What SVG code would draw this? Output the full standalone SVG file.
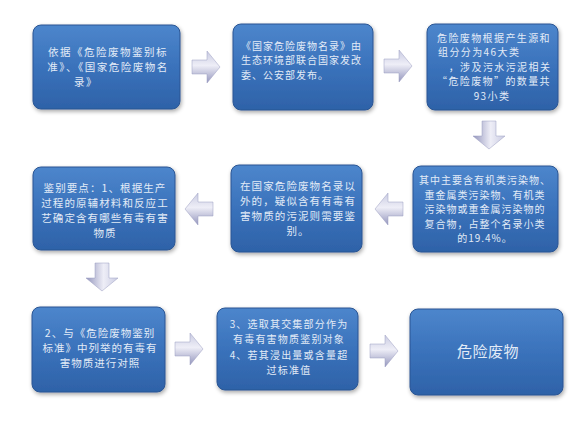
<svg xmlns="http://www.w3.org/2000/svg" width="582" height="428" viewBox="0 0 582 428">
<defs>
<linearGradient id="boxg" x1="0" y1="0" x2="0" y2="1">
<stop offset="0" stop-color="#4d86cc"/>
<stop offset="0.5" stop-color="#3a72bb"/>
<stop offset="1" stop-color="#2e62a8"/>
</linearGradient>
<linearGradient id="arrg" x1="0" y1="0" x2="0" y2="1">
<stop offset="0" stop-color="#c9cbe2"/>
<stop offset="0.45" stop-color="#eeeef7"/>
<stop offset="1" stop-color="#9496bd"/>
</linearGradient>
<filter id="sh" x="-10%" y="-10%" width="125%" height="130%">
<feGaussianBlur in="SourceAlpha" stdDeviation="2"/>
<feOffset dx="1" dy="2"/>
<feComponentTransfer><feFuncA type="linear" slope="0.35"/></feComponentTransfer>
<feMerge><feMergeNode/><feMergeNode in="SourceGraphic"/></feMerge>
</filter>
<path id="arr" d="M0,9 H15 V0 L28,16 L15,32 V23 H0 Z"/>
</defs>
<style>
.box{fill:url(#boxg);stroke:#2a5593;stroke-width:1;filter:url(#sh)}
.t{font-family:"Noto Sans CJK SC","Liberation Sans",sans-serif;font-size:10.5px;letter-spacing:1px;fill:#e2ebf7;text-anchor:middle}
.ts{text-anchor:start}
.a{fill:url(#arrg);stroke:#9a9cc0;stroke-width:0.5}
</style>
<rect width="582" height="428" fill="#ffffff"/>
<g id="connectors">
<use href="#arr" class="a" transform="translate(192,51)"/>
<use href="#arr" class="a" transform="translate(384,50)"/>
<use href="#arr" class="a" transform="translate(505,121) rotate(90)"/>
<use href="#arr" class="a" transform="translate(403,193) scale(-1,1)"/>
<use href="#arr" class="a" transform="translate(213,193) scale(-1,1)"/>
<use href="#arr" class="a" transform="translate(118,263) rotate(90)"/>
<use href="#arr" class="a" transform="translate(175,333)"/>
<use href="#arr" class="a" transform="translate(370,335)"/>
</g>
<g id="n1">
<rect class="box" x="33" y="25" width="147" height="84" rx="8"/>
<text class="t" style="letter-spacing:1.5px"><tspan x="108" y="56">依据《危险废物鉴别标</tspan><tspan x="108" y="71">准》、《国家危险废物名</tspan><tspan x="86" y="86">录》</tspan></text>
</g>
<g id="n2">
<rect class="box" x="233" y="24" width="140" height="86" rx="8"/>
<text class="t ts" style="font-size:10px"><tspan x="241" y="49.5">《国家危险废物名录》由</tspan><tspan x="241" y="64">生态环境部联合国家发改</tspan><tspan x="241" y="78.5">委、公安部发布。</tspan></text>
</g>
<g id="n3">
<rect class="box" x="427" y="24" width="131" height="86" rx="8"/>
<text class="t" style="font-size:10px;letter-spacing:1.4px"><tspan x="494" y="41.5">危险废物根据产生源和</tspan><tspan x="438" y="56" style="text-anchor:start">组分分为46大类</tspan><tspan x="500" y="70.5">，涉及污水污泥相关</tspan><tspan x="494" y="85">“危险废物”的数量共</tspan><tspan x="492" y="99.5">93小类</tspan></text>
</g>
<g id="n4">
<rect class="box" x="413" y="166" width="145" height="86" rx="8"/>
<text class="t" style="font-size:10px"><tspan x="485" y="184">其中主要含有机类污染物、</tspan><tspan x="485" y="198.5">重金属类污染物、有机类</tspan><tspan x="485" y="213">污染物或重金属污染物的</tspan><tspan x="485" y="227.5">复合物，占整个名录小类</tspan><tspan x="485" y="242">的19.4%。</tspan></text>
</g>
<g id="n5">
<rect class="box" x="231" y="165" width="131" height="87" rx="8"/>
<text class="t" style="letter-spacing:1.1px"><tspan x="298" y="190">在国家危险废物名录以</tspan><tspan x="298" y="205">外的，疑似含有有毒有</tspan><tspan x="298" y="220">害物质的污泥则需要鉴</tspan><tspan x="298" y="235">别。</tspan></text>
</g>
<g id="n6">
<rect class="box" x="33" y="167" width="142" height="83" rx="8"/>
<text class="t" style="letter-spacing:1.1px"><tspan x="105" y="191.5">鉴别要点：1、根据生产</tspan><tspan x="105" y="206.5">过程的原辅材料和反应工</tspan><tspan x="105" y="221.5">艺确定含有哪些有毒有害</tspan><tspan x="105" y="236.5">物质</tspan></text>
</g>
<g id="n7">
<rect class="box" x="32" y="307" width="133" height="85" rx="8"/>
<text class="t"><tspan x="100" y="336.5">2、与《危险废物鉴别</tspan><tspan x="100" y="351.5">标准》中列举的有毒有</tspan><tspan x="100" y="366.5">害物质进行对照</tspan></text>
</g>
<g id="n8">
<rect class="box" x="217" y="308" width="141" height="82" rx="8"/>
<text class="t" style="font-size:10px;letter-spacing:1.2px"><tspan x="289" y="328">3、选取其交集部分作为</tspan><tspan x="289" y="343">有毒有害物质鉴别对象</tspan><tspan x="289" y="359">4、若其浸出量或含量超</tspan><tspan x="289" y="374">过标准值</tspan></text>
</g>
<g id="n9">
<rect class="box" x="410" y="309" width="153" height="86" rx="8"/>
<text class="t" style="font-size:15px;letter-spacing:0.5px"><tspan x="488" y="357">危险废物</tspan></text>
</g>
</svg>
